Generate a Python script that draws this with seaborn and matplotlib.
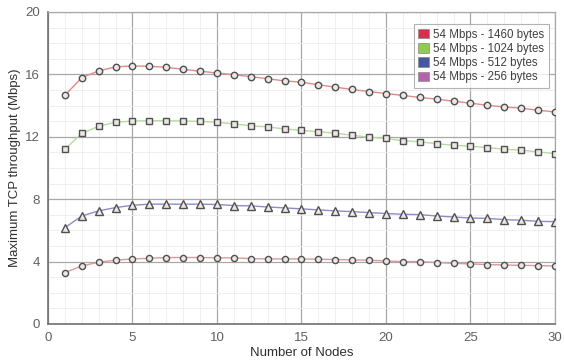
import numpy as np
import pandas as pd
import matplotlib
matplotlib.use('Agg')
import matplotlib.pyplot as plt
from matplotlib.patches import Patch
import seaborn as sns

nodes = list(range(1, 31))
tcp_1460 = [14.65, 15.79, 16.22, 16.48, 16.54, 16.52, 16.45, 16.32, 16.20, 16.09,
            15.98, 15.85, 15.72, 15.58, 15.50, 15.33, 15.18, 15.03, 14.90, 14.77,
            14.65, 14.52, 14.41, 14.28, 14.15, 14.02, 13.91, 13.83, 13.70, 13.59]
tcp_1024 = [11.19, 12.22, 12.67, 12.93, 13.01, 13.03, 13.03, 13.01, 12.99, 12.93,
            12.82, 12.71, 12.63, 12.50, 12.41, 12.32, 12.23, 12.10, 11.97, 11.89,
            11.75, 11.68, 11.55, 11.46, 11.39, 11.31, 11.20, 11.14, 11.03, 10.92]
tcp_512 = [6.17, 6.92, 7.25, 7.46, 7.61, 7.68, 7.68, 7.68, 7.68, 7.66,
           7.59, 7.57, 7.50, 7.44, 7.38, 7.31, 7.25, 7.20, 7.14, 7.08,
           7.03, 7.01, 6.92, 6.86, 6.79, 6.77, 6.69, 6.65, 6.58, 6.56]
tcp_256 = [3.29, 3.72, 3.96, 4.09, 4.17, 4.21, 4.26, 4.26, 4.26, 4.24,
           4.24, 4.19, 4.17, 4.17, 4.17, 4.15, 4.13, 4.11, 4.09, 4.04,
           4.00, 4.00, 3.94, 3.89, 3.85, 3.81, 3.78, 3.76, 3.74, 3.72]

labels = ['54 Mbps - 1460 bytes', '54 Mbps - 1024 bytes',
          '54 Mbps - 512 bytes', '54 Mbps - 256 bytes']
legend_colors = ['#d2334c', '#8fcb4f', '#4556a3', '#b463ad']
line_colors = ['#e08a8a', '#b5dc9c', '#8c8cc8', '#d89a9a']
markers = ['o', 's', '^', 'o']
msizes = [4.6, 5.0, 5.6, 4.4]

sns.set_style('white')
plt.rcParams['font.family'] = ['Liberation Sans', 'DejaVu Sans']

fig, ax = plt.subplots(figsize=(5.64, 3.62), dpi=100)
fig.subplots_adjust(left=0.085, right=0.984, top=0.967, bottom=0.105)

for vals, lab, lc, mk, ms in zip([tcp_1460, tcp_1024, tcp_512, tcp_256],
                                 labels, line_colors, markers, msizes):
    df = pd.DataFrame({'nodes': nodes, 'tput': vals})
    sns.lineplot(data=df, x='nodes', y='tput', ax=ax, color=lc, lw=1.0,
                 marker=mk, markersize=ms, markerfacecolor='#ece6e6',
                 markeredgecolor='#505050', markeredgewidth=1.0, zorder=3)

ax.set_xlim(0, 30)
ax.set_ylim(0, 20)
ax.set_xticks(np.arange(0, 31, 5))
ax.set_yticks(np.arange(0, 21, 4))
ax.set_xticks(np.arange(0, 31, 1), minor=True)
ax.set_yticks(np.arange(0, 21, 1), minor=True)
ax.grid(which='major', color='#a8a8a8', lw=0.9)
ax.grid(which='minor', color='#ececec', lw=0.6)
ax.set_axisbelow(True)
ax.tick_params(which='both', direction='out', colors='#707070', labelsize=9.5,
               labelcolor='#606060', pad=2)
ax.tick_params(which='major', length=4)
ax.tick_params(which='minor', length=2)
for side in ['left', 'bottom']:
    ax.spines[side].set_color('#707070')
    ax.spines[side].set_linewidth(1.2)
for side in ['top', 'right']:
    ax.spines[side].set_color('#a8a8a8')
    ax.spines[side].set_linewidth(0.9)

ax.set_xlabel('Number of Nodes', fontsize=9.5, color='#303030', labelpad=2)
ax.set_ylabel('Maximum TCP throughput (Mbps)', fontsize=9.5, color='#303030',
              labelpad=3)

handles = [Patch(facecolor=c, edgecolor='#888888', lw=0.5) for c in legend_colors]
leg = ax.legend(handles, labels, loc='upper right', fontsize=8.3, frameon=True,
                fancybox=False, handlelength=0.9, handleheight=0.9,
                handletextpad=0.4, borderpad=0.4, labelspacing=0.2,
                bbox_to_anchor=(1.0, 0.98))
leg.get_frame().set_edgecolor('#a0a0a0')
leg.get_frame().set_linewidth(0.8)
for t in leg.get_texts():
    t.set_color('#404040')

plt.savefig('out.png', dpi=100)
